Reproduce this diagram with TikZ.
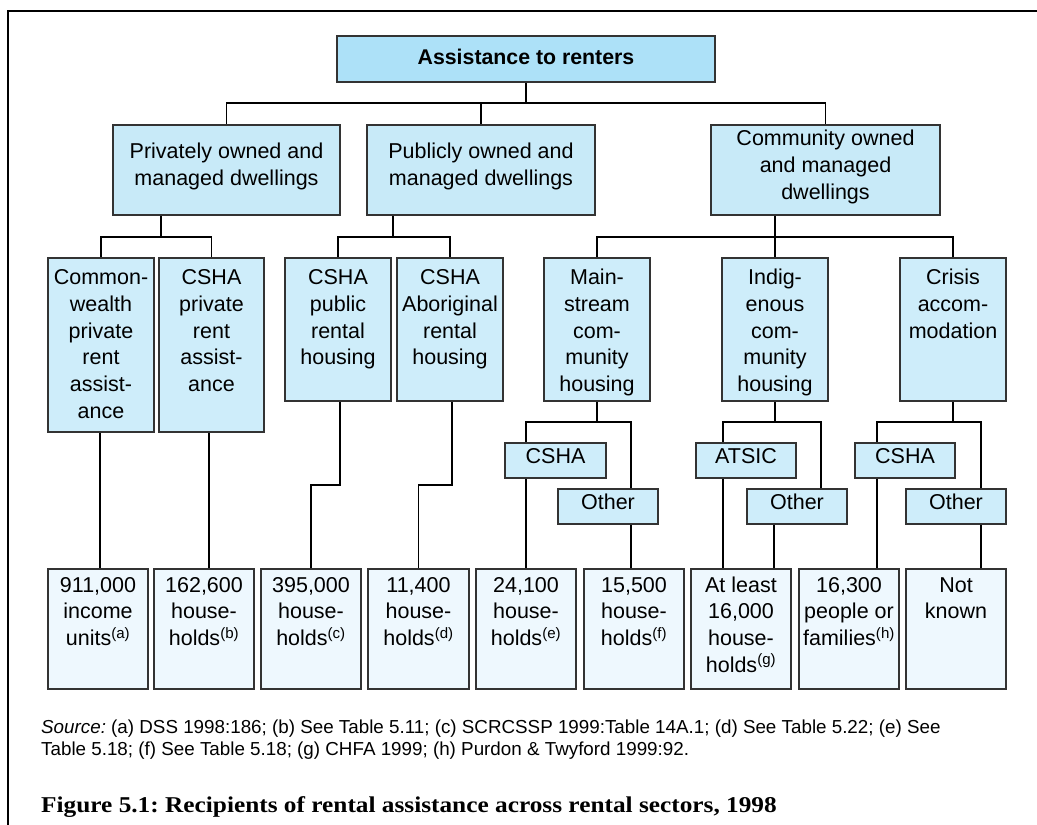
\documentclass[tikz,border=0pt]{standalone}
\usepackage{fontspec}
\setmainfont{Liberation Sans}
\newfontfamily\capfont[FakeStretch=1.12]{Liberation Serif}
\usetikzlibrary{backgrounds}
\frenchspacing
\definecolor{topfill}{RGB}{173,225,248}
\definecolor{midfill}{RGB}{200,234,248}
\definecolor{lowfill}{RGB}{206,237,250}
\definecolor{botfill}{RGB}{238,248,254}
\definecolor{edgegray}{RGB}{51,51,51}
\newcommand\bx[8]{%
  \pgfmathsetmacro\bw{#5-#3}%
  \pgfmathsetmacro\bh{#6-#4}%
  \pgfmathsetmacro\bcx{(#3+#5)/2}%
  \pgfmathsetmacro\bcy{(#4+#6)/2}%
  \node[#2, minimum width=\bw pt, minimum height=\bh pt] (#1) at (\bcx,\bcy)
   {\parbox[c][\bh pt][t]{\bw pt}{\centering\vspace*{#7pt}\strut #8}};}
\tikzset{
  boxbase/.style={draw=edgegray, line width=1.3pt, inner sep=0pt, outer sep=0pt,
    font=\fontsize{21.5}{26.7}\selectfont},
  topbox/.style={boxbase, fill=topfill, font=\bfseries\fontsize{21.3}{26.7}\selectfont},
  midbox/.style={boxbase, fill=midfill},
  lowbox/.style={boxbase, fill=lowfill},
  botbox/.style={boxbase, fill=botfill},
  conn/.style={draw=black, line width=1.3pt},
  srctext/.style={inner sep=0pt, anchor=base west, font=\fontsize{18.8}{22.3}\selectfont},
}
\begin{document}
\begin{tikzpicture}[x=1pt, y=-1pt]
\useasboundingbox (0,0) rectangle (1037,825);
\draw[line width=2pt] (8,825) -- (8,11) -- (1037,11);
% level 0
\bx{top}{topbox}{337}{36}{715}{82}{10.3}{Assistance to renters}
% level 1
\bx{priv}{midbox}{113}{125}{340}{215}{15.3}{Privately owned and\\managed dwellings}
\bx{pub}{midbox}{367}{125}{595}{215}{15.3}{Publicly owned and\\managed dwellings}
\bx{comm}{midbox}{711}{125}{940}{215}{2.3}{Community owned\\and managed\\dwellings}
% level 2
\bx{cw}{lowbox}{48}{258}{154}{432}{8}{Common-\\wealth\\private\\rent\\assist-\\ance}
\bx{cp}{lowbox}{159}{258}{264}{432}{8}{CSHA\\private\\rent\\assist-\\ance}
\bx{pubr}{lowbox}{285}{258}{391}{401}{8}{CSHA\\public\\rental\\housing}
\bx{abr}{lowbox}{397}{258}{503}{401}{8}{CSHA\\Aboriginal\\rental\\housing}
\bx{ms}{lowbox}{544}{258}{650}{401}{8}{Main-\\stream\\com-\\munity\\housing}
\bx{ind}{lowbox}{722}{258}{828}{401}{8}{Indig-\\enous\\com-\\munity\\housing}
\bx{cr}{lowbox}{900}{258}{1006}{401}{8}{Crisis\\accom-\\modation}
% level 3
\bx{mscs}{lowbox}{505}{443}{606}{478}{1.8}{CSHA}
\bx{msot}{lowbox}{558}{489}{658}{524}{2.3}{Other}
\bx{inat}{lowbox}{696}{443}{796}{478}{1.8}{ATSIC}
\bx{inot}{lowbox}{747}{489}{847}{524}{2.3}{Other}
\bx{crcs}{lowbox}{855}{443}{955}{478}{1.8}{CSHA}
\bx{crot}{lowbox}{906}{489}{1006}{524}{2.3}{Other}
% bottom
\bx{b1}{botbox}{48}{569}{148}{689}{4.6}{911,000\\income\\units\textsuperscript{(a)}}
\bx{b2}{botbox}{154}{569}{254}{689}{4.6}{162,600\\house-\\holds\textsuperscript{(b)}}
\bx{b3}{botbox}{261}{569}{361}{689}{4.6}{395,000\\house-\\holds\textsuperscript{(c)}}
\bx{b4}{botbox}{368}{569}{469}{689}{4.6}{11,400\\house-\\holds\textsuperscript{(d)}}
\bx{b5}{botbox}{476}{569}{576}{689}{4.6}{24,100\\house-\\holds\textsuperscript{(e)}}
\bx{b6}{botbox}{584}{569}{684}{689}{4.6}{15,500\\house-\\holds\textsuperscript{(f)}}
\bx{b7}{botbox}{691}{569}{791}{689}{4.6}{At least\\16,000\\house-\\holds\textsuperscript{(g)}}
\bx{b8}{botbox}{799}{569}{899}{689}{4.6}{16,300\\people or\\families\textsuperscript{(h)}}
\bx{b9}{botbox}{906}{569}{1006}{689}{4.6}{Not\\known}
% connectors
\begin{scope}[on background layer]
\coordinate (j0) at (526,103);
\draw[conn] (top.south) -- (top.south |- j0);
\draw[conn] (priv.north) |- (comm.north |- j0) -- (comm.north);
\draw[conn] (pub.north) -- (pub.north |- j0);
\coordinate (j1) at (161,237);
\draw[conn] (j1 |- priv.south) -- (j1);
\draw[conn] (cw.north) |- (j1) -| (cp.north);
\coordinate (j2) at (393,237);
\draw[conn] (j2 |- pub.south) -- (j2);
\draw[conn] (pubr.north) |- (j2) -| (abr.north);
\coordinate (j3) at (775,237);
\draw[conn] (j3 |- comm.south) -- (j3);
\draw[conn] (ms.north) |- (j3) -| (cr.north);
\draw[conn] (ind.north) -- (ind.north |- j3);
% main-stream
\coordinate (j4) at (597,422);
\coordinate (k4) at (631,422);
\draw[conn] (ms.south) -- (j4);
\draw[conn] (b5.north) |- (k4) -- (k4 |- msot.north);
\draw[conn] (k4 |- msot.south) -- (k4 |- b6.north);
% indigenous
\coordinate (j5) at (775,422);
\coordinate (k5a) at (723,422);
\coordinate (k5b) at (821,422);
\coordinate (k5c) at (774,0);
\draw[conn] (ind.south) -- (j5);
\draw[conn] (k5a |- b7.north) |- (k5b) -- (k5b |- inot.north);
\draw[conn] (k5c |- inot.south) -- (k5c |- b7.north);
% crisis
\coordinate (j6) at (953,422);
\coordinate (k6a) at (877,422);
\coordinate (k6b) at (981,422);
\draw[conn] (cr.south) -- (j6);
\draw[conn] (k6a |- b8.north) |- (k6b) -- (k6b |- crot.north);
\draw[conn] (k6b |- crot.south) -- (k6b |- b9.north);
% level 2 to bottom
\coordinate (m1) at (100,0);
\coordinate (m2) at (209,0);
\coordinate (m3) at (340,485);
\coordinate (m4) at (452,485);
\draw[conn] (m1 |- cw.south) -- (m1 |- b1.north);
\draw[conn] (m2 |- cp.south) -- (m2 |- b2.north);
\draw[conn] (m3 |- pubr.south) -- (m3) -| (b3.north);
\draw[conn] (m4 |- abr.south) -- (m4) -| (b4.north);
\end{scope}
% source and caption
\node[srctext] (src1) at (41,733) {\textit{Source:} (a) DSS 1998:186; (b) See Table 5.11; (c) SCRCSSP 1999:Table 14A.1; (d) See Table 5.22; (e) See};
\node[srctext] (src2) at (41,755) {Table 5.18; (f) See Table 5.18; (g) CHFA 1999; (h) Purdon \& Twyford 1999:92.};
\node[inner sep=0pt, anchor=base west, font=\capfont\bfseries\fontsize{22.6}{26}\selectfont] (cap) at (41,812) {Figure 5.1: Recipients of rental assistance across rental sectors, 1998};
\end{tikzpicture}
\end{document}
